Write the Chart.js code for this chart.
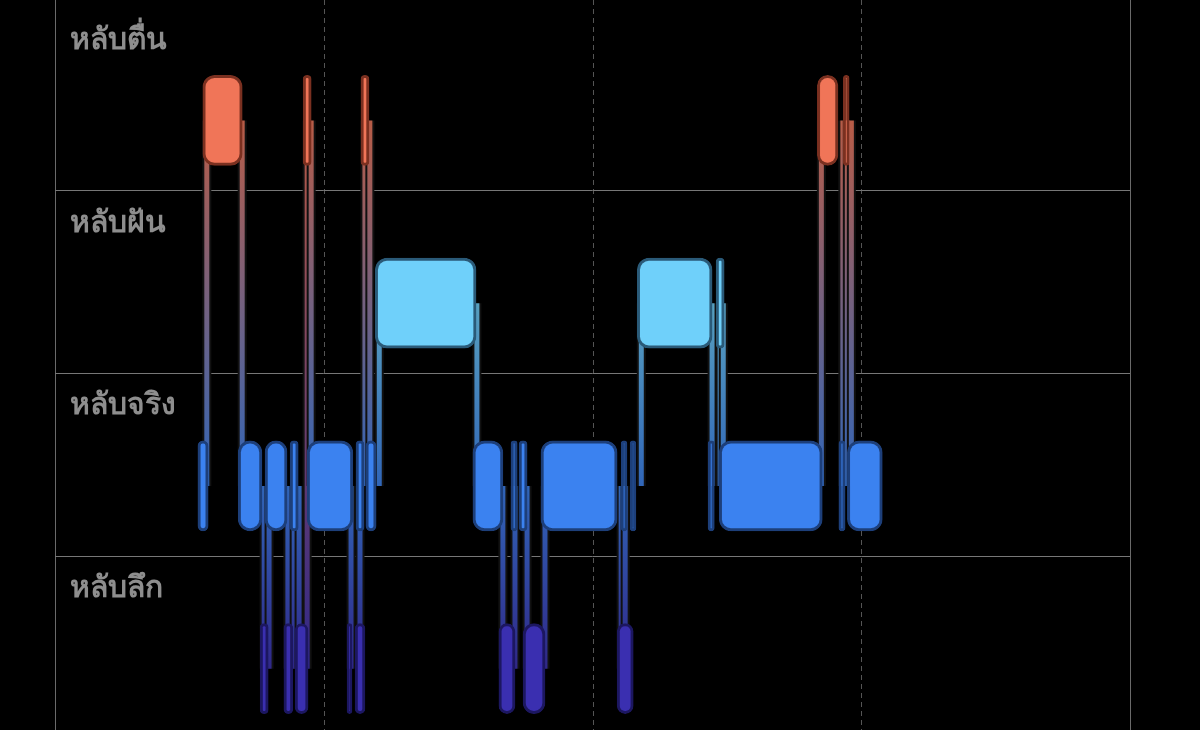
<!DOCTYPE html>
<html><head><meta charset="utf-8">
<style>html,body{margin:0;padding:0;background:#000;overflow:hidden;width:1200px;height:730px}#w{width:1200px;height:760px}</style>
<script src="https://cdn.jsdelivr.net/npm/chart.js@4"></script>
</head><body><div id="w"><canvas id="c" width="1200" height="760"></canvas></div>
<script>
const stages = ['หลับตื่น','หลับฝัน','หลับจริง','หลับลึก'];
const awake = [[33.0,41.8],[55.4,57.2],[68.3,70.1],[170.2,174.8],[176.0,177.3]];
const rem = [[71.5,94.0],[130.0,146.7],[147.6,149.4]];
const core = [[31.9,34.2],[40.9,46.2],[46.9,51.8],[52.5,54.3],[56.3,66.5],[67.2,69.0],[69.4,71.7],[93.3,100.0],[101.8,103.2],[103.6,105.4],[108.5,125.5],[126.4,127.7],[128.4,129.7],[145.8,147.2],[148.3,171.3],[175.0,176.4],[176.9,184.7]];
const deep = [[45.8,47.6],[51.1,53.1],[53.6,56.5],[65.2,66.3],[67.0,69.2],[99.1,102.7],[104.5,109.4],[125.5,129.1]];
const hourTicks = [60,120,180];
const fills = ['#F07558','#6FD0FA','#3B82F0','#3A2FB0'];
const borders = ['#7a3020','#2a5a78','#1d3f7a','#1c1760'];
const series = [awake,rem,core,deep];

const ds = series.map((arr,i)=>({
  label: stages[i],
  data: arr.map(r=>({x:r, y:stages[i]})),
  backgroundColor: fills[i], borderColor: borders[i], borderWidth: 3,
  borderRadius: 12, borderSkipped: false, barThickness: 90, grouped:false
}));

const decor = {
  id:'decor',
  beforeDatasetsDraw(ch){
    const {ctx, chartArea:a, scales:{x,y}} = ch;
    ctx.save();
    ctx.strokeStyle='#6a6a6a'; ctx.lineWidth=1;
    [0,240].forEach(v=>{const px=Math.round(x.getPixelForValue(v))+0.5;ctx.beginPath();ctx.moveTo(px,0);ctx.lineTo(px,730);ctx.stroke();});
    ctx.setLineDash([5,4]); ctx.strokeStyle='#555';
    hourTicks.forEach(v=>{const px=Math.round(x.getPixelForValue(v))+0.5;ctx.beginPath();ctx.moveTo(px,0);ctx.lineTo(px,730);ctx.stroke();});
    ctx.setLineDash([]); ctx.strokeStyle='#777';
    for(let i=0;i<3;i++){const py=Math.round(y.getPixelForValue(i))+70.5;ctx.beginPath();ctx.moveTo(x.getPixelForValue(0),py);ctx.lineTo(1130,py);ctx.stroke();}
    ctx.fillStyle='#8e8e8e'; ctx.font='bold 30px "Noto Sans", sans-serif'; ctx.textBaseline='middle';
    stages.forEach((s,i)=>ctx.fillText(s,70,y.getPixelForValue(i)-80));
    // transitions
    const segs=[]; series.forEach((arr,i)=>arr.forEach(r=>segs.push({s:r[0],e:r[1],i})));
    segs.sort((p,q)=>p.s-q.s);
    for(let k=1;k<segs.length;k++){
      const p=segs[k-1], c=segs[k]; if(p.i===c.i) continue;
      const px=x.getPixelForValue(c.s)+4;
      const y1=y.getPixelForValue(p.i), y2=y.getPixelForValue(c.i);
      const g=ctx.createLinearGradient(0,y1,0,y2); g.addColorStop(0,fills[p.i]); g.addColorStop(1,fills[c.i]);
      ctx.strokeStyle='#111'; ctx.lineWidth=9; ctx.beginPath(); ctx.moveTo(px,y1); ctx.lineTo(px,y2); ctx.stroke();
      ctx.globalAlpha=0.75; ctx.strokeStyle=g; ctx.lineWidth=5; ctx.beginPath(); ctx.moveTo(px,y1); ctx.lineTo(px,y2); ctx.stroke(); ctx.globalAlpha=1;
    }
    ctx.restore();
  }
};

new Chart(document.getElementById('c'),{
  type:'bar', data:{labels:stages, datasets:ds},
  options:{indexAxis:'y', responsive:false, animation:false,
    layout:{padding:{left:55,right:70,top:29,bottom:0}},
    plugins:{legend:{display:false},tooltip:{enabled:false}},
    scales:{x:{type:'linear',min:0,max:240,display:false},y:{type:'category',display:false}}},
  plugins:[decor]
});
</script></body></html>
